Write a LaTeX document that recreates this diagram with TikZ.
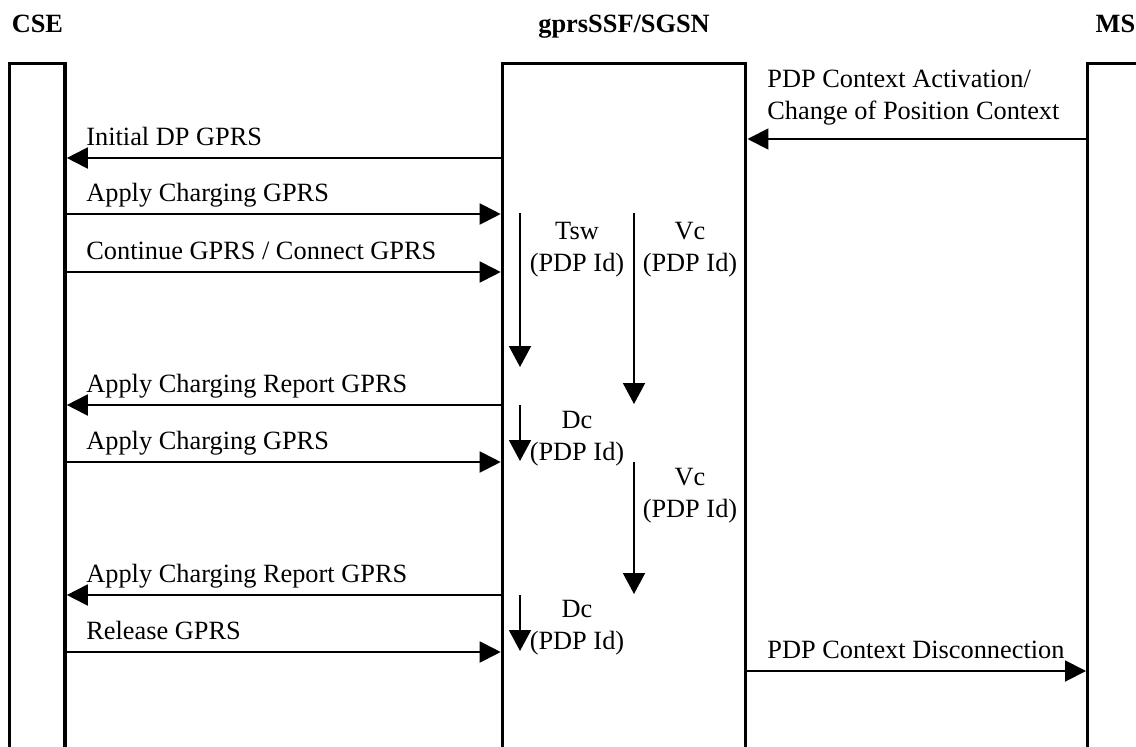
\documentclass[tikz,border=0pt]{standalone}
\usepackage{fontspec}
\setmainfont{Liberation Serif}
\usetikzlibrary{arrows.meta,positioning}

\begin{document}
\begin{tikzpicture}[x=0.02cm, y=-0.02cm,
  every node/.style={font=\fontsize{15pt}{18.1pt}\selectfont, inner sep=0pt},
  entity/.style={draw, line width=1.9pt, anchor=north west, minimum height=14.4cm},
  title/.style={font=\fontsize{15pt}{18.1pt}\selectfont\bfseries, text depth=0pt},
  msg/.style={line width=1.1pt, -{Triangle[length=0.42cm, width=0.42cm]}},
  timer/.style={line width=1.1pt, -{Triangle[length=0.42cm, width=0.44cm]}},
  lbl/.style={anchor=base west},
  tlbl/.style={align=center, anchor=base}]
  \useasboundingbox (0, 0) rectangle (1136, 747);
  \clip (0, 0) rectangle (1136, 747);

  % the three entities
  \node[entity, minimum width=1.11cm] (cse) at (8, 62) {};
  \node[entity, minimum width=4.87cm] (sgsn) at (500.7, 62) {};
  \node[entity, minimum width=1.11cm] (ms) at (1086, 62) {};
  \node[title, above=0.58cm of cse.north] (cseT) {CSE};
  \node[title, above=0.58cm of sgsn.north] (sgsnT) {gprsSSF/SGSN};
  \node[title, above=0.58cm of ms.north] (msT) {MS};

  % message rows
  \coordinate (rAct) at (0, 139);
  \coordinate (rIdp) at (0, 158);
  \coordinate (rAc1) at (0, 214);
  \coordinate (rCon) at (0, 272);
  \coordinate (rAcr1) at (0, 405);
  \coordinate (rAc2) at (0, 462);
  \coordinate (rAcr2) at (0, 595);
  \coordinate (rRel) at (0, 652);
  \coordinate (rDisc) at (0, 671);

  \draw[msg] (ms.west |- rAct) -- (sgsn.east |- rAct);
  \node[lbl, align=left] (actL) at (767, 119) {PDP Context Activation/\\Change of Position Context};

  \draw[msg] (sgsn.west |- rIdp) -- (cse.east |- rIdp);
  \node[lbl] (idpL) at (86, 145) {Initial DP GPRS};

  \draw[msg] (cse.east |- rAc1) -- (sgsn.west |- rAc1);
  \node[lbl] (ac1L) at (86, 201) {Apply Charging GPRS};

  \draw[msg] (cse.east |- rCon) -- (sgsn.west |- rCon);
  \node[lbl] (conL) at (86, 259) {Continue GPRS / Connect GPRS};

  \draw[msg] (sgsn.west |- rAcr1) -- (cse.east |- rAcr1);
  \node[lbl] (acr1L) at (86, 392) {Apply Charging Report GPRS};

  \draw[msg] (cse.east |- rAc2) -- (sgsn.west |- rAc2);
  \node[lbl] (ac2L) at (86, 449) {Apply Charging GPRS};

  \draw[msg] (sgsn.west |- rAcr2) -- (cse.east |- rAcr2);
  \node[lbl] (acr2L) at (86, 582) {Apply Charging Report GPRS};

  \draw[msg] (cse.east |- rRel) -- (sgsn.west |- rRel);
  \node[lbl] (relL) at (86, 639) {Release GPRS};

  \draw[msg] (sgsn.east |- rDisc) -- (ms.west |- rDisc);
  \node[lbl] (discL) at (767, 658) {PDP Context Disconnection};

  % timers inside gprsSSF/SGSN
  \coordinate (tswA) at (520, 213);
  \coordinate (tswB) at (520, 367);
  \coordinate (vc1A) at (634, 213);
  \coordinate (vc1B) at (634, 404);
  \coordinate (dc1A) at (520, 405);
  \coordinate (dc1B) at (520, 461);
  \coordinate (vc2A) at (634, 462);
  \coordinate (vc2B) at (634, 594);
  \coordinate (dc2A) at (520, 595);
  \coordinate (dc2B) at (520, 651);

  \draw[timer] (tswA) -- (tswB);
  \node[tlbl] (tswL) at (577, 271) {Tsw\\(PDP Id)};
  \draw[timer] (vc1A) -- (vc1B);
  \node[tlbl] (vc1L) at (690, 271) {Vc\\(PDP Id)};
  \draw[timer] (dc1A) -- (dc1B);
  \node[tlbl] (dc1L) at (577, 460) {Dc\\(PDP Id)};
  \draw[timer] (vc2A) -- (vc2B);
  \node[tlbl] (vc2L) at (690, 517) {Vc\\(PDP Id)};
  \draw[timer] (dc2A) -- (dc2B);
  \node[tlbl] (dc2L) at (577, 649) {Dc\\(PDP Id)};
\end{tikzpicture}
\end{document}
